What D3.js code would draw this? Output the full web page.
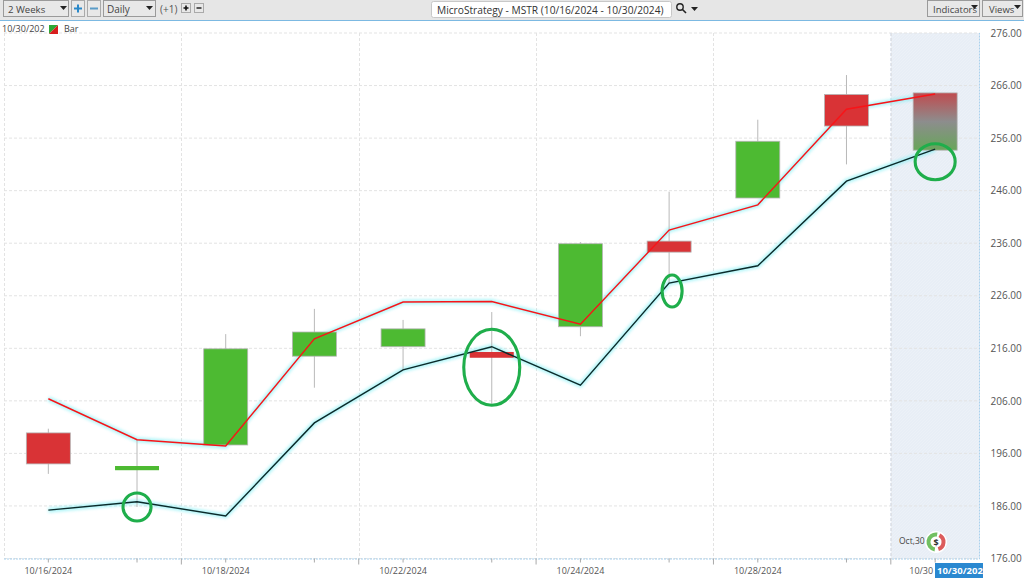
<!DOCTYPE html>
<html><head><meta charset="utf-8">
<script src="https://cdn.jsdelivr.net/npm/d3@7/dist/d3.min.js"></script>
<style>
html,body{margin:0;padding:0;background:#fff;overflow:hidden}
text{font-family:"Open Sans","Noto Sans",sans-serif;fill:#555}
</style></head><body><svg id="c" width="1024" height="581"></svg>
<script>
const dates=["10/16/2024","10/17/2024","10/18/2024","10/21/2024","10/22/2024","10/23/2024","10/24/2024","10/25/2024","10/28/2024","10/29/2024","10/30/2024"];
const opens=[199.9,192.8,197.6,214.5,216.3,215.3,220.1,236.4,244.6,264.3,253.7];
const closes=[194.0,193.6,215.9,219.1,219.7,214.2,235.9,234.3,255.4,258.3,264.6];
const highs=[200.7,198.6,218.7,223.5,221.4,222.9,236.2,245.8,259.5,268.0,264.6];
const lows=[192.1,185.8,197.4,208.5,211.9,205.2,218.3,228.4,244.6,251.0,253.7];
const colors=["red","green","green","green","green","red","green","red","green","red","mixed"];
const upperLine=[206.4,198.6,197.4,217.8,224.8,224.9,220.6,238.5,243.3,261.5,264.4];
const lowerLine=[185.2,186.8,184.1,201.8,211.9,216.3,209.0,228.4,231.7,247.8,253.9];
const yTicks=[176,186,196,206,216,226,236,246,256,266,276];
const xLabelDates=["10/16/2024","10/18/2024","10/22/2024","10/24/2024","10/28/2024","10/30"];
const gridDates=["10/17/2024","10/21/2024","10/23/2024","10/25/2024","10/29/2024"];
const marks=[["10/17/2024",185.8,14,14],["10/23/2024",212.4,28,38],["10/25/2024",226.9,10,16],["10/30/2024",251.5,20,18]];

const svg=d3.select("#c");
const defs=svg.append("defs");
const x=d3.scaleBand().domain(dates).range([4,979.5]);
const y=d3.scaleLinear().domain([176,276]).range([558.5,33]);
const cx=d=>x(d)+x.bandwidth()/2;
const bw=44;

const grad=defs.append("linearGradient").attr("id","mix").attr("x1",0).attr("x2",0).attr("y1",0).attr("y2",1);
[[0,"#bf4b4f"],[0.5,"#8d8d8d"],[1,"#68a55a"]].forEach(s=>grad.append("stop").attr("offset",s[0]).attr("stop-color",s[1]));
const pat=defs.append("pattern").attr("id","hatch").attr("width",3).attr("height",3).attr("patternUnits","userSpaceOnUse");
pat.append("rect").attr("width",3).attr("height",3).attr("fill","#e8eef6");
pat.append("path").attr("d","M0 3L3 0").attr("stroke","#eef2f8").attr("stroke-width",.7);
defs.append("filter").attr("id","glow").attr("x","-5%").attr("y","-20%").attr("width","110%").attr("height","140%")
  .append("feGaussianBlur").attr("stdDeviation",1.8);

// toolbar
const tb=svg.append("g");
tb.append("rect").attr("width",1024).attr("height",20).attr("fill","#e6e6e6");
tb.append("rect").attr("y",20).attr("width",1024).attr("height",1).attr("fill","#7cb9e2");
function box(bx,w,label,tx,fs){
  tb.append("rect").attr("x",bx+.5).attr("y",.5).attr("width",w).attr("height",16).attr("fill","#e8e8e8").attr("stroke","#9a9a9a");
  if(label)tb.append("text").attr("x",tx).attr("y",13).attr("font-size",fs||10).style("fill","#444").text(label);
}
function caret(px,py){tb.append("path").attr("d",`M${px} ${py}h7l-3.5 4z`).attr("fill","#222");}
box(3,65,"2 Weeks",8,9.6);caret(60,6);
function pm(bx,col,plus,w){
  const small=w<=10,top=small?3.5:.5,h=small?9:16,mid=top+h/2;
  tb.append("rect").attr("x",bx+.5).attr("y",top).attr("width",w).attr("height",h).attr("fill","#e8e8e8").attr("stroke","#aaa");
  const m=bx+w/2+.5,c=small?2.5:4;
  tb.append("path").attr("d",`M${m-c} ${mid}h${2*c}`+(plus?`M${m} ${mid-c}v${2*c}`:"")).attr("stroke",col).attr("stroke-width",small?1.6:2);
}
pm(71,"#2a88c8",true,13);pm(87,"#5a9cc8",false,13);
box(103,52,"Daily",107);caret(146,6);
tb.append("text").attr("x",160).attr("y",13).attr("font-size",10).style("fill","#555").text("(+1)");
pm(181,"#111",true,9);pm(194,"#333",false,9);
tb.append("rect").attr("x",431.5).attr("y",1.5).attr("width",240).attr("height",16).attr("rx",2).attr("fill","#fff").attr("stroke","#c8c8c8");
tb.append("text").attr("x",437).attr("y",14).attr("font-size",10.2).style("fill","#333").text("MicroStrategy - MSTR (10/16/2024 - 10/30/2024)");
tb.append("circle").attr("cx",680).attr("cy",7).attr("r",3.2).attr("fill","none").attr("stroke","#222").attr("stroke-width",1.4);
tb.append("path").attr("d","M682.5 9.5L686 13").attr("stroke","#222").attr("stroke-width",1.6);
caret(691,7);
box(927,52,"Indicators",933,9.5);caret(971,5);
box(982,40,"Views",989,9.5);caret(1014,5);

// shaded last period
const shadeX=cx(dates[10])-x.step()/2;
svg.append("rect").attr("x",shadeX).attr("y",y(276)).attr("width",x.range()[1]-shadeX).attr("height",y(176)-y(276)).attr("fill","url(#hatch)");

// grid
const grid=svg.append("g").attr("stroke","#e3e3e3").attr("stroke-dasharray","3 2").attr("fill","none");
yTicks.forEach(t=>grid.append("line").attr("x1",x.range()[0]).attr("x2",x.range()[1]).attr("y1",y(t)).attr("y2",y(t)));
gridDates.forEach(d=>{const gx=Math.round(cx(d)+x.step()/2)+.5;grid.append("line").attr("x1",gx).attr("x2",gx).attr("y1",y(276)).attr("y2",y(176));});
grid.append("line").attr("x1",4.5).attr("x2",4.5).attr("y1",y(276)).attr("y2",y(176));
svg.append("path").attr("d",`M${x.range()[0]} ${y(176)+.5}H${x.range()[1]}V${y(276)}`).attr("fill","none").attr("stroke","#a9d0ec").attr("stroke-dasharray","2 1");
svg.append("line").attr("x1",shadeX).attr("x2",shadeX).attr("y1",y(276)).attr("y2",y(176)).attr("stroke","#d4dde8").attr("stroke-dasharray","3 2");

// axes
const ay=svg.append("g").attr("transform",`translate(${x.range()[1]},0)`)
  .call(d3.axisRight(y).tickValues(yTicks).tickFormat(d3.format(".2f")).tickSize(0).tickPadding(11));
ay.select(".domain").remove();
ay.selectAll("text").attr("font-size",10).style("font-family",'"Open Sans",sans-serif').style("fill","#555");
const ax=svg.append("g").attr("transform",`translate(0,${y(176)})`)
  .call(d3.axisBottom(x).tickSize(4).tickFormat(d=>{
    const s=d==="10/30/2024"?"10/30":d;return xLabelDates.includes(s)?s:"";}).tickPadding(5));
ax.select(".domain").remove();
ax.selectAll("line").attr("stroke","#aaa");
ax.selectAll("text").attr("font-size",9).style("font-family",'"Open Sans",sans-serif').style("fill","#555");
ax.selectAll(".tick").filter(d=>d==="10/30/2024").select("text").attr("text-anchor","end").attr("dx",-2);
gridDates.forEach(d=>svg.append("line").attr("x1",cx(d)+x.step()/2).attr("x2",cx(d)+x.step()/2).attr("y1",y(176)).attr("y2",y(176)+6).attr("stroke","#aaa"));

// header legend
svg.append("text").attr("x",2).attr("y",32).attr("font-size",9).style("fill","#444").text("10/30/202");
svg.append("path").attr("d","M49 25h9L49 34z").attr("fill","#2ea836");
svg.append("path").attr("d","M58 25v9H49z").attr("fill","#d81e1e");
svg.append("text").attr("x",64).attr("y",32).attr("font-size",9).style("fill","#444").text("Bar");

// lines' glow under the candles, so the bodies keep their colour
const line=d3.line().x((d,i)=>cx(dates[i])).y(d=>y(d));
[upperLine,lowerLine].forEach(s=>{
  svg.append("path").attr("d",line(s)).attr("fill","none").attr("stroke","#7ff0f5").attr("stroke-width",5).attr("opacity",.6).attr("filter","url(#glow)");
});

// candles
const idx=dates.map((_,i)=>i);
const fill=i=>colors[i]==="red"?"#d93336":colors[i]==="green"?"#4dba32":"url(#mix)";
svg.append("g").selectAll("line").data(idx.filter(i=>highs[i]>lows[i]&&colors[i]!=="mixed")).join("line")
  .attr("x1",i=>cx(dates[i])).attr("x2",i=>cx(dates[i])).attr("y1",i=>y(highs[i])).attr("y2",i=>y(lows[i]))
  .attr("stroke","#b9b9b9").attr("stroke-width",1);
svg.append("g").selectAll("rect").data(idx).join("rect")
  .attr("x",i=>cx(dates[i])-bw/2).attr("width",bw)
  .attr("y",i=>y(Math.max(opens[i],closes[i])))
  .attr("height",i=>Math.abs(y(opens[i])-y(closes[i])))
  .attr("fill",fill).attr("stroke",i=>Math.abs(y(opens[i])-y(closes[i]))<8?"none":"#b5b5b5").attr("stroke-width",.8);

// lines
[[upperLine,"#f81418"],[lowerLine,"#0b2a2a"]].forEach(([s,c])=>{
  svg.append("path").attr("d",line(s)).attr("fill","none").attr("stroke",c).attr("stroke-width",1.4);
});

// annotation ellipses
svg.append("g").selectAll("ellipse").data(marks).join("ellipse")
  .attr("cx",d=>cx(d[0])+(d[0]==="10/25/2024"?3:0)).attr("cy",d=>y(d[1])).attr("rx",d=>d[2]).attr("ry",d=>d[3])
  .attr("fill","none").attr("stroke","#1fae4b").attr("stroke-width",3.1);

// Oct,30 badge
const bx=936,by=542;
svg.append("text").attr("x",899).attr("y",544).attr("font-size",8.5).style("fill","#444").text("Oct,30");
svg.append("circle").attr("cx",bx).attr("cy",by).attr("r",11).attr("fill","#fff");
const arc=d3.arc().innerRadius(5.5).outerRadius(9.5);
svg.append("path").attr("transform",`translate(${bx},${by})`).attr("fill","#72c062").attr("d",arc({startAngle:-Math.PI*0.95,endAngle:Math.PI*0.05}));
svg.append("path").attr("transform",`translate(${bx},${by})`).attr("fill","#dc5c5c").attr("d",arc({startAngle:Math.PI*0.15,endAngle:Math.PI*0.9}));
svg.append("text").attr("x",bx).attr("y",by+3.5).attr("text-anchor","middle").attr("font-size",9).attr("font-weight",700).style("fill","#333").text("$");

// date cursor label
svg.append("rect").attr("x",935).attr("y",563).attr("width",48).attr("height",15).attr("fill","#2a88d0");
svg.append("text").attr("x",937).attr("y",574).attr("font-size",9.5).attr("font-weight",700).style("fill","#fff").text("10/30/202");
</script></body></html>
